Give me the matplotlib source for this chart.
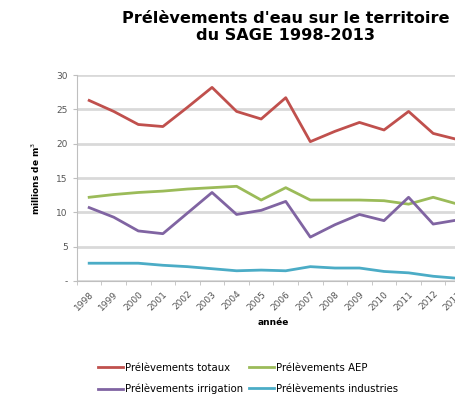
import numpy as np
import matplotlib.pyplot as plt

# Prélèvements d'eau (millions de m3) sur le territoire du SAGE
annees = ['1998', '1999', '2000', '2001', '2002', '2003', '2004', '2005',
          '2006', '2007', '2008', '2009', '2010', '2011', '2012', '2013']
totaux = [26.3, 24.7, 22.8, 22.5, 25.3, 28.2, 24.7, 23.6,
          26.7, 20.3, 21.8, 23.1, 22.0, 24.7, 21.5, 20.6]
aep = [12.2, 12.6, 12.9, 13.1, 13.4, 13.6, 13.8, 11.8,
       13.6, 11.8, 11.8, 11.8, 11.7, 11.2, 12.2, 11.2]
irrigation = [10.7, 9.3, 7.3, 6.9, 9.9, 12.9, 9.7, 10.3,
              11.6, 6.4, 8.2, 9.7, 8.8, 12.2, 8.3, 8.9]
industries = [2.6, 2.6, 2.6, 2.3, 2.1, 1.8, 1.5, 1.6,
              1.5, 2.1, 1.9, 1.9, 1.4, 1.2, 0.7, 0.4]
y_ticks = [0, 5, 10, 15, 20, 25, 30]
y_labels = ['-', '5', '10', '15', '20', '25', '30']

fig = plt.figure(figsize=(4.55, 3.97), dpi=100)
# la zone de tracé déborde à droite, comme dans l'export d'origine
ax = fig.add_axes([0.169, 0.292, 0.864, 0.519])

x = np.arange(len(annees))
l_tot, = ax.plot(x, totaux, color='#c0504d', lw=2, label='Prélèvements totaux')
l_aep, = ax.plot(x, aep, color='#9bbb59', lw=2, label='Prélèvements AEP')
l_irr, = ax.plot(x, irrigation, color='#8064a2', lw=2, label='Prélèvements irrigation')
l_ind, = ax.plot(x, industries, color='#4bacc6', lw=2, label='Prélèvements industries')

ax.set_xlim(-0.5, len(annees) - 0.5)
ax.set_ylim(0, 30)
ax.set_yticks(y_ticks)
ax.set_yticklabels(y_labels)
ax.yaxis.grid(True, color='#d9d9d9', lw=2)
ax.set_axisbelow(True)

ax.set_xticks(x)
ax.set_xticklabels(annees, rotation=45, ha='right', rotation_mode='anchor')
ax.set_xticks(np.arange(-0.5, len(annees)), minor=True)
ax.tick_params(axis='x', which='major', length=0, pad=6, labelsize=6.5, labelcolor='#555555')
ax.tick_params(axis='x', which='minor', length=3, color='#bfbfbf')
ax.tick_params(axis='y', length=3, color='#bfbfbf', labelsize=6.5, labelcolor='#555555')

for s in ['top', 'right']:
    ax.spines[s].set_visible(False)
for s in ['left', 'bottom']:
    ax.spines[s].set_color('#bfbfbf')

ax.set_ylabel('millions de m$^3$', fontsize=6.5, fontweight='bold', labelpad=10)
ax.set_xlabel('année', fontsize=6.5, fontweight='bold', labelpad=4)

fig.text(0.627, 0.972, "Prélèvements d'eau sur le territoire\ndu SAGE 1998-2013",
         ha='center', va='top', fontsize=11.6, fontweight='bold', linespacing=1.15)

# ordre colonne par colonne pour retrouver totaux/AEP sur la première ligne
fig.legend([l_tot, l_irr, l_aep, l_ind],
           [l.get_label() for l in (l_tot, l_irr, l_aep, l_ind)],
           loc='center', bbox_to_anchor=(0.545, 0.047), ncol=2, frameon=False,
           fontsize=7.3, handlelength=2.5, handletextpad=0.15, columnspacing=0.6,
           labelspacing=1.1)

fig.savefig('out.png', dpi=100)
